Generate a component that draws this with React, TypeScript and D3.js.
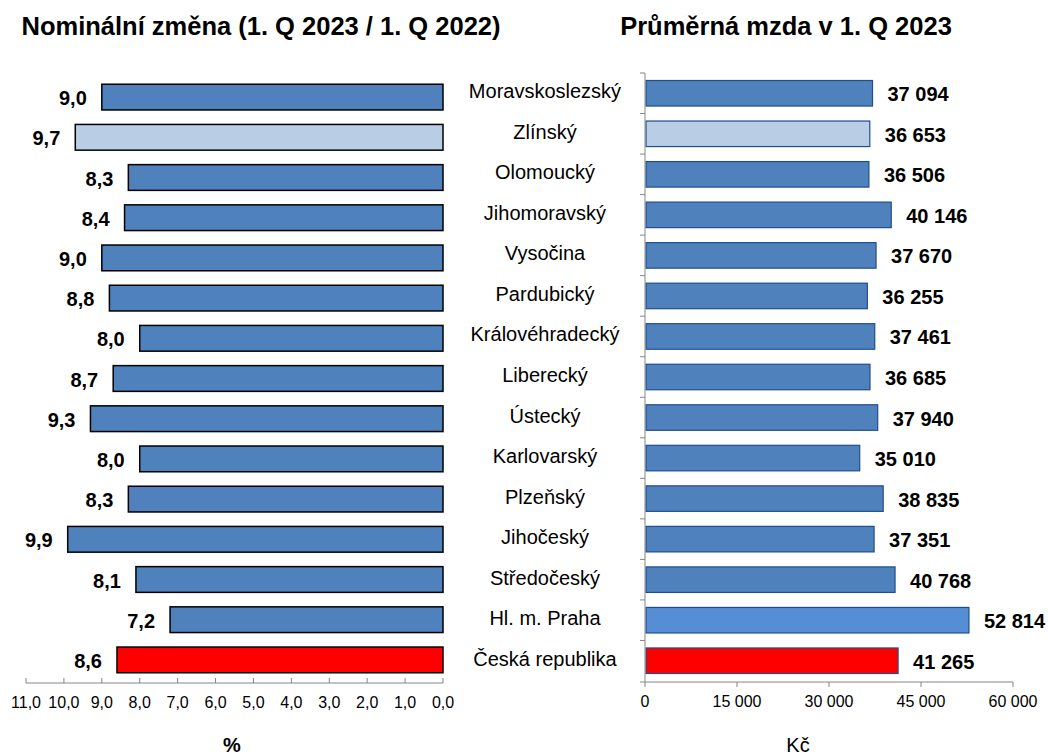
import { useRef, useEffect } from "react";
import * as d3 from "d3";

const regions = [
  "Moravskoslezský",
  "Zlínský",
  "Olomoucký",
  "Jihomoravský",
  "Vysočina",
  "Pardubický",
  "Královéhradecký",
  "Liberecký",
  "Ústecký",
  "Karlovarský",
  "Plzeňský",
  "Jihočeský",
  "Středočeský",
  "Hl. m. Praha",
  "Česká republika",
];
const nominalChange = [9.0, 9.7, 8.3, 8.4, 9.0, 8.8, 8.0, 8.7, 9.3, 8.0, 8.3, 9.9, 8.1, 7.2, 8.6];
const avgWage = [37094, 36653, 36506, 40146, 37670, 36255, 37461, 36685, 37940, 35010, 38835, 37351, 40768, 52814, 41265];
const leftTicks = [11, 10, 9, 8, 7, 6, 5, 4, 3, 2, 1, 0];
const rightTicks = [0, 15000, 30000, 45000, 60000];

const FONT = "'Liberation Sans', Arial, sans-serif";

function fillFor(name: string, side: "l" | "r") {
  if (name === "Česká republika") return "#ff0000";
  if (name === "Zlínský") return "#b9cde5";
  if (name === "Hl. m. Praha" && side === "r") return "#558ed5";
  return "#4f81bd";
}

const fmtDec = (v: number) => v.toFixed(1).replace(".", ",");
const fmtK = (v: number) => d3.format(",")(v).replace(/,/g, " ");

export default function App() {
  const svgRef = useRef<SVGSVGElement>(null);

  useEffect(() => {
    if (!svgRef.current) return;
    const svg = d3.select(svgRef.current);
    svg.selectAll("*").remove();

    // titles
    svg.append("text").attr("x", 261).attr("y", 35).attr("text-anchor", "middle")
      .attr("font-size", 25.5).attr("font-weight", "bold").text("Nominální změna (1. Q 2023 / 1. Q 2022)");
    svg.append("text").attr("x", 786).attr("y", 35).attr("text-anchor", "middle")
      .attr("font-size", 25.5).attr("font-weight", "bold").text("Průměrná mzda v 1. Q 2023");

    // ---- left chart
    const xl = d3.scaleLinear().domain([11, 0]).range([26, 443]);
    const yl = d3.scaleBand().domain(regions).range([77, 680]).paddingInner(0.36).paddingOuter(0.18);
    const gl = svg.append("g");
    gl.selectAll("rect").data(regions).enter().append("rect")
      .attr("x", (d, i) => xl(nominalChange[i]))
      .attr("y", (d) => yl(d)!)
      .attr("width", (d, i) => xl(0) - xl(nominalChange[i]))
      .attr("height", yl.bandwidth())
      .attr("fill", (d) => fillFor(d, "l"))
      .attr("stroke", "#000").attr("stroke-width", 1.5);
    gl.selectAll("text.val").data(regions).enter().append("text")
      .attr("class", "val")
      .attr("x", (d, i) => xl(nominalChange[i]) - 15)
      .attr("y", (d) => yl(d)! + yl.bandwidth() / 2 + 8)
      .attr("text-anchor", "end").attr("font-size", 20).attr("font-weight", "bold")
      .text((d, i) => fmtDec(nominalChange[i]));
    const axl = gl.append("g").attr("transform", "translate(0,683)");
    axl.append("line").attr("x1", xl(11)).attr("x2", xl(0)).attr("stroke", "#868686");
    axl.selectAll("line.t").data(leftTicks).enter().append("line").attr("class", "t")
      .attr("x1", (d) => xl(d)).attr("x2", (d) => xl(d)).attr("y1", -5).attr("y2", 0)
      .attr("stroke", "#868686");
    axl.selectAll("text").data(leftTicks).enter().append("text")
      .attr("x", (d) => xl(d)).attr("y", 25).attr("text-anchor", "middle")
      .attr("font-size", 16).text((d) => fmtDec(d));
    gl.append("text").attr("x", 232).attr("y", 752).attr("text-anchor", "middle")
      .attr("font-size", 20).attr("font-weight", "bold").text("%");

    // ---- right chart
    const xr = d3.scaleLinear().domain([0, 60000]).range([645, 1013]);
    const yr = d3.scaleBand().domain(regions).range([73, 681]).paddingInner(0.37).paddingOuter(0.185);

    // ---- category labels
    svg.append("g").selectAll("text").data(regions).enter().append("text")
      .attr("x", 545).attr("y", (d) => yr(d)! + yr.bandwidth() / 2 + 5)
      .attr("text-anchor", "middle").attr("font-size", 20).text((d) => d);

    const gr = svg.append("g");
    gr.selectAll("rect").data(regions).enter().append("rect")
      .attr("x", xr(0) + 1)
      .attr("y", (d) => yr(d)!)
      .attr("width", (d, i) => xr(avgWage[i]) - xr(0) - 1)
      .attr("height", yr.bandwidth())
      .attr("fill", (d) => fillFor(d, "r"))
      .attr("stroke", "#1f4e8c").attr("stroke-width", 1.2);
    gr.selectAll("text.val").data(regions).enter().append("text")
      .attr("class", "val")
      .attr("x", (d, i) => xr(avgWage[i]) + 15)
      .attr("y", (d) => yr(d)! + yr.bandwidth() / 2 + 8)
      .attr("font-size", 20).attr("font-weight", "bold")
      .text((d, i) => fmtK(avgWage[i]));
    // y axis with ticks between categories
    const step = yr.step();
    const top = yr(regions[0])! - (step * yr.paddingInner()) / 2;
    gr.append("line").attr("x1", xr(0)).attr("x2", xr(0)).attr("y1", top).attr("y2", 682).attr("stroke", "#868686");
    gr.selectAll("line.yt").data(regions).enter().append("line").attr("class", "yt")
      .attr("x1", xr(0) - 5).attr("x2", xr(0))
      .attr("y1", (d) => yr(d)! - (step * yr.paddingInner()) / 2)
      .attr("y2", (d) => yr(d)! - (step * yr.paddingInner()) / 2)
      .attr("stroke", "#868686");
    const axr = gr.append("g").attr("transform", "translate(0,682)");
    axr.append("line").attr("x1", xr(0) - 5).attr("x2", xr(60000)).attr("stroke", "#868686");
    axr.selectAll("line.t").data(rightTicks).enter().append("line").attr("class", "t")
      .attr("x1", (d) => xr(d)).attr("x2", (d) => xr(d)).attr("y1", 0).attr("y2", 5)
      .attr("stroke", "#868686");
    axr.selectAll("text").data(rightTicks).enter().append("text")
      .attr("x", (d) => xr(d)).attr("y", 25).attr("text-anchor", "middle")
      .attr("font-size", 16).text((d) => fmtK(d));
    gr.append("text").attr("x", 798).attr("y", 752).attr("text-anchor", "middle")
      .attr("font-size", 20).text("Kč");
  }, []);

  return (
    <svg
      ref={svgRef}
      width={1048}
      height={756}
      style={{ position: "absolute", left: 0, top: 0, background: "#fff" }}
      fontFamily={FONT}
      fill="#000"
    />
  );
}
